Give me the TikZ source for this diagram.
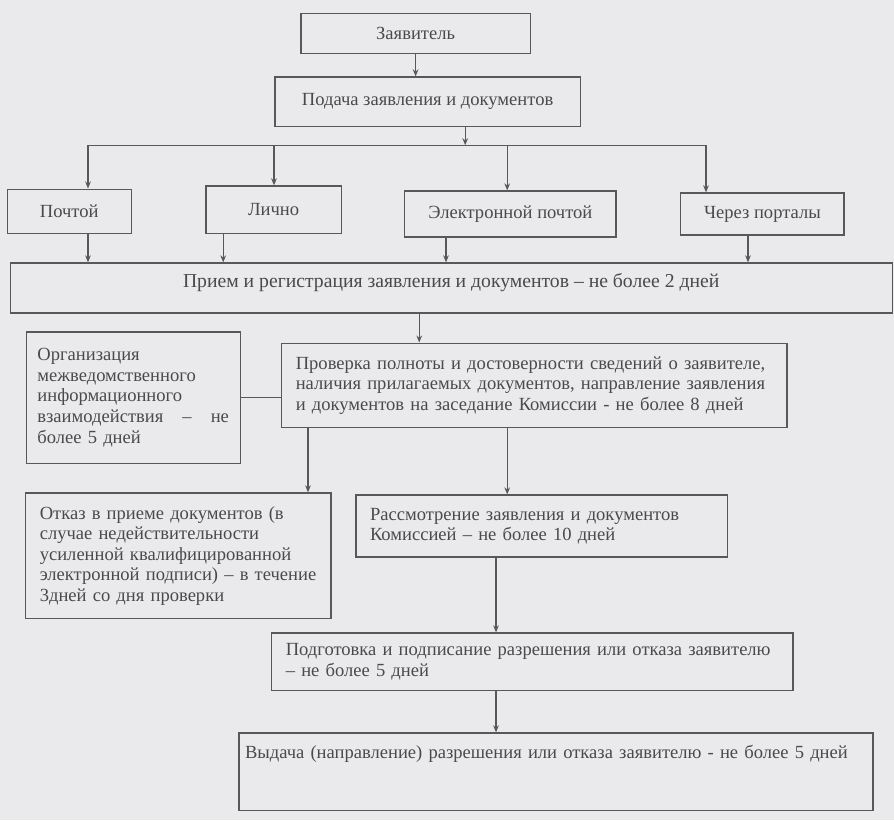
\documentclass[tikz,border=0pt]{standalone}
\usepackage{fontspec}
\setmainfont{Liberation Serif}
\usetikzlibrary{arrows.meta}

\definecolor{scanbg}{RGB}{234,234,236}
\definecolor{ink}{RGB}{88,88,88}
\definecolor{txt}{RGB}{74,74,74}

\begin{document}
\begin{tikzpicture}[
    box/.style={draw=ink, line width=0.9pt, inner xsep=0.35cm, inner ysep=0pt,
        text=txt, font=\fontsize{13.2}{14.6}\selectfont},
    arr/.style={draw=ink, line width=0.9pt, -{Stealth[length=5pt,width=4pt]}},
    lin/.style={draw=ink, line width=0.9pt}
]
    \fill[scanbg] (0,0) rectangle (22.35,-20.5);

    % top of the scheme
    \node[box, minimum width=5.73cm, minimum height=1cm] (zayav) at (10.39,-0.83) {Заявитель};
    \node[box, minimum width=7.63cm, minimum height=1.23cm] (podacha) at (10.69,-2.54) {Подача заявления и документов};

    % ways of submission
    \node[box, minimum width=3.1cm, minimum height=1.1cm] (pochta) at (1.73,-5.28) {Почтой};
    \node[box, minimum width=3.38cm, minimum height=1.18cm] (lichno) at (6.84,-5.24) {Лично};
    \node[box, minimum width=5.28cm, minimum height=1.15cm] (email) at (12.76,-5.35) {Электронной почтой};
    \node[box, minimum width=4.08cm, minimum height=1.05cm] (portal) at (19.06,-5.35) {Через порталы};

    \node[box, font=\fontsize{14}{15.5}\selectfont, text depth=0.4cm,
        minimum width=22.05cm, minimum height=1.25cm] (priem) at (11.28,-7.2)
        {Прием и регистрация заявления и документов – не более 2 дней};

    % checking
    \node[box, text width=11.93cm, minimum height=2.1cm, align=left] (prov) at (13.36,-9.63)
        {Проверка полноты и достоверности сведений о заявителе,\\
         наличия прилагаемых документов, направление заявления\\
         и документов на заседание Комиссии - не более 8 дней};
    \node[box, inner xsep=0.28cm, text width=4.79cm, minimum height=3.28cm, align=left] (org) at (3.33,-9.94)
        {Организация\\ межведомственного\\ информационного\\
         взаимодействия\hfill–\hfill не\\ более 5 дней};

    % results
    \node[box, text width=6.93cm, minimum height=3.13cm, align=left] (otkaz) at (4.46,-13.89)
        {Отказ в приеме документов (в\\ случае недействительности\\
         усиленной квалифицированной\\ электронной подписи) – в течение\\
         3дней со дня проверки};
    \node[box, text width=8.58cm, minimum height=1.55cm, align=left] (rassm) at (13.54,-13.15)
        {Рассмотрение заявления и документов\\ Комиссией – не более 10 дней};
    \node[box, text width=12.33cm, minimum height=1.43cm, align=left] (podgot) at (13.31,-16.54)
        {Подготовка и подписание разрешения или отказа заявителю\\ – не более 5 дней};
    \node[box, inner xsep=0.15cm, text width=15.55cm, minimum height=1.93cm, align=left] (vydacha) at (13.9,-19.29)
        {Выдача (направление) разрешения или отказа заявителю - не более 5 дней\\[0.45cm]\mbox{}};

    % bus line under the application
    \coordinate (busM) at (11.63,-3.63);
    \coordinate (tap1) at (2.2,-3.63);
    \coordinate (tap2) at (6.85,-3.63);
    \coordinate (tap3) at (12.68,-3.63);
    \coordinate (tap4) at (17.65,-3.63);

    \draw[arr] (zayav.south) -- (zayav.south |- podacha.north);
    \draw[arr] (podacha.south -| busM) -- (busM);
    \draw[lin] (tap1) -- (tap4);
    \foreach \t/\n in {tap1/pochta, tap2/lichno, tap3/email, tap4/portal}
        \draw[arr] (\t) -- (\n.north -| \t);
    \foreach \n/\x in {pochta/2.2, lichno/5.58, email/11.15, portal/18.7}
        \draw[arr] (\n.south -| \x,0) -- (priem.north -| \x,0);

    \draw[arr] (priem.south -| 10.48,0) -- (prov.north -| 10.48,0);
    \draw[lin] (org.east) -- (org.east -| prov.west);
    \draw[arr] (prov.south -| 7.7,0) -- (otkaz.north -| 7.7,0);
    \draw[arr] (prov.south -| 12.68,0) -- (rassm.north -| 12.68,0);
    \draw[arr] (rassm.south -| 12.4,0) -- (podgot.north -| 12.4,0);
    \draw[arr] (podgot.south -| 12.4,0) -- (vydacha.north -| 12.4,0);
\end{tikzpicture}
\end{document}
